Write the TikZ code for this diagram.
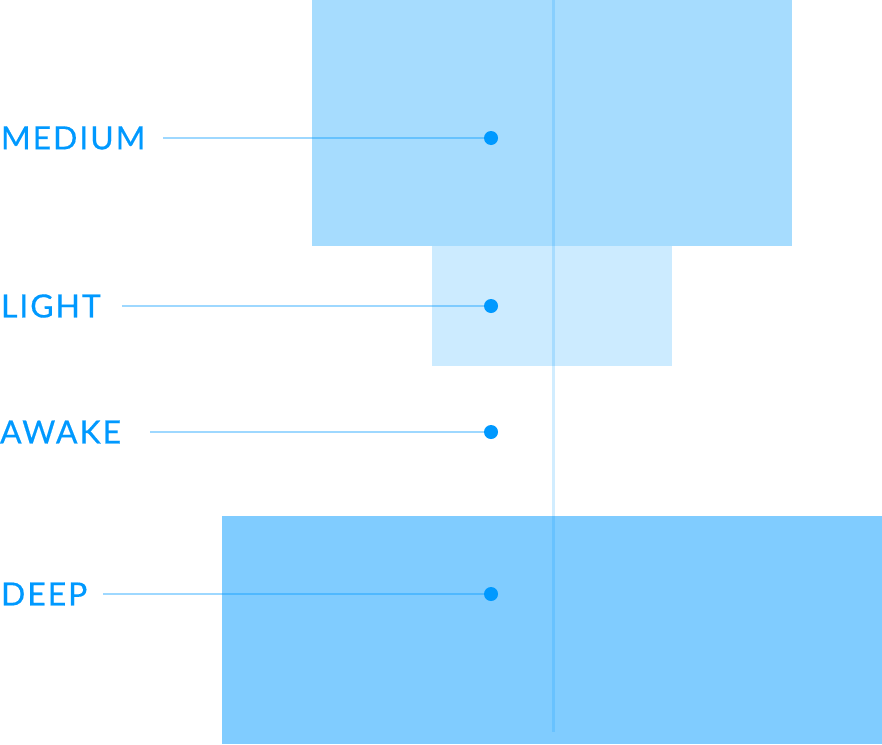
\documentclass[tikz,border=0pt]{standalone}
\usepackage{fontspec}
\setmainfont{Lato}[LetterSpace=6, FakeBold=0.4]
\usepackage{tikz}
\usetikzlibrary{positioning}
\definecolor{sleepblue}{HTML}{0099FF}
\definecolor{mediumfill}{HTML}{A6DCFE}
\definecolor{lightfill}{HTML}{CCEBFF}
\definecolor{deepfill}{HTML}{80CCFF}

\begin{document}
\begin{tikzpicture}[x=1pt,y=-1pt,
        stage/.style={anchor=west, inner sep=0pt, outer sep=0pt, text=sleepblue, font=\fontsize{32}{36}\selectfont},
        dot/.style={circle, fill=sleepblue, minimum size=14pt, inner sep=0pt, outer sep=0pt},
        lead/.style={draw=sleepblue, draw opacity=0.38, line width=1.6pt}]
        \useasboundingbox (0,0) rectangle (882,744);

        % stage blocks
        \fill[mediumfill] (312,0) rectangle (792,246);
        \fill[lightfill] (432,246) rectangle (672,366);
        \fill[deepfill] (222,516) rectangle (882,744);
        \draw[line width=3pt, sleepblue, opacity=0.18] (553,0) -- (553,732);

        \node[stage] at (1,138) (medium) {MEDIUM};
        \node[stage] at (1,306) (light) {LIGHT};
        \node[stage] at (0,432) (awake) {AWAKE};
        \node[stage] at (1,594) (deep) {DEEP};

        \node[dot] at (491,138) (mediumdot) {};
        \node[dot] at (491,306) (lightdot) {};
        \node[dot] at (491,432) (awakedot) {};
        \node[dot] at (491,594) (deepdot) {};

        \draw[lead, shorten <=18pt] (medium) -- (mediumdot);
        \draw[lead, shorten <=21pt] (light) -- (lightdot);
        \draw[lead, shorten <=29pt] (awake) -- (awakedot);
        \draw[lead, shorten <=16pt] (deep) -- (deepdot);
    \end{tikzpicture}
\end{document}
